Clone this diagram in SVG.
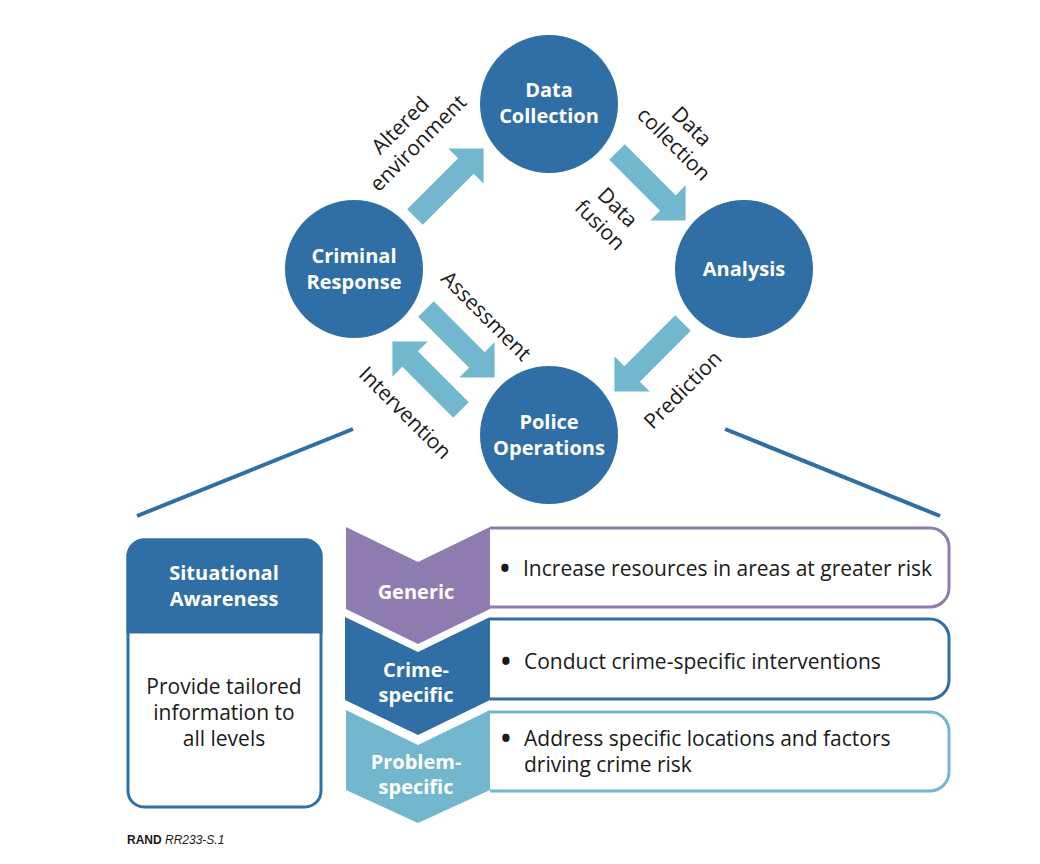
<svg xmlns="http://www.w3.org/2000/svg" width="1040" height="864" viewBox="0 0 1040 864">
<style>
.node{fill:#306ea6}
.arr{fill:#72b7cd}
.wb{font-family:"Open Sans","Noto Sans",sans-serif;font-weight:bold;font-size:20px;fill:#fff;text-anchor:middle}
.lbl{font-family:"Open Sans","Noto Sans",sans-serif;font-size:21px;fill:#1a1a1a;text-anchor:middle}
.body{font-family:"Open Sans","Noto Sans",sans-serif;font-size:21px;fill:#1a1a1a}
.bul{font-family:"Open Sans","Noto Sans",sans-serif;font-size:26px;font-weight:bold;fill:#1a1a1a}
.conn{stroke:#306ea6;stroke-width:4;fill:none}
</style>
<defs>
<path id="fat" d="M0,-11 L72,-11 L72,-25 L97,0 L72,25 L72,11 L0,11 Z"/>
</defs>
<rect width="1040" height="864" fill="#fff"/>
<g id="connectors">
<use href="#fat" class="arr" transform="translate(415,217) rotate(-45)"/>
<use href="#fat" class="arr" transform="translate(617,152) rotate(45)"/>
<use href="#fat" class="arr" transform="translate(683,323) rotate(135)"/>
<use href="#fat" class="arr" transform="translate(426,309) rotate(45)"/>
<use href="#fat" class="arr" transform="translate(461,410) rotate(-135)"/>
<line class="conn" x1="353" y1="429" x2="137" y2="516"/>
<line class="conn" x1="725" y1="429" x2="940" y2="516"/>
<g transform="translate(409,134) rotate(-45)"><text class="lbl" y="-5">Altered</text><text class="lbl" y="20">environment</text></g>
<g transform="translate(683,135) rotate(45)"><text class="lbl" y="-5">Data</text><text class="lbl" y="20">collection</text></g>
<g transform="translate(609,216) rotate(45)"><text class="lbl" y="-5">Data</text><text class="lbl" y="20">fusion</text></g>
<text class="lbl" transform="translate(486,316) rotate(45)" y="7">Assessment</text>
<text class="lbl" transform="translate(405,413) rotate(45)" y="7">Intervention</text>
<text class="lbl" transform="translate(683,390) rotate(-45)" y="7">Prediction</text>
</g>
<g id="data-collection"><circle class="node" cx="549" cy="104" r="69"/><text class="wb" x="549" y="97">Data</text><text class="wb" x="549" y="123">Collection</text></g>
<g id="criminal-response"><circle class="node" cx="354" cy="269" r="69"/><text class="wb" x="354" y="263">Criminal</text><text class="wb" x="354" y="289">Response</text></g>
<g id="analysis"><circle class="node" cx="744" cy="269" r="69"/><text class="wb" x="744" y="276">Analysis</text></g>
<g id="police-operations"><circle class="node" cx="549" cy="435" r="69"/><text class="wb" x="549" y="429">Police</text><text class="wb" x="549" y="455">Operations</text></g>
<g id="situational-awareness">
<rect x="128" y="540" width="193" height="267" rx="16" fill="#fff" stroke="#306ea6" stroke-width="3"/>
<path d="M128,632 L128,556 A16,16 0 0 1 144,540 L305,540 A16,16 0 0 1 321,556 L321,632 Z" fill="#306ea6" stroke="#306ea6" stroke-width="3"/>
<text class="wb" x="224" y="580">Situational</text><text class="wb" x="224" y="606">Awareness</text>
<text class="body" text-anchor="middle" x="224" y="694">Provide tailored</text>
<text class="body" text-anchor="middle" x="224" y="720">information to</text>
<text class="body" text-anchor="middle" x="224" y="746">all levels</text>
</g>
<g id="generic">
<path d="M490,528 L930,528 A19,19 0 0 1 949,547 L949,588 A19,19 0 0 1 930,607 L490,607" fill="#fff" stroke="#8e7bb0" stroke-width="3"/>
<path d="M346,527 L418,562 L490,527 L490,609 L418,644 L346,609 Z" fill="#8e7bb0"/>
<text class="wb" x="416" y="599">Generic</text>
<text class="bul" x="500" y="578">•</text><text class="body" x="523" y="576">Increase resources in areas at greater risk</text>
</g>
<g id="crime-specific">
<path d="M490,619 L930,619 A19,19 0 0 1 949,638 L949,680 A19,19 0 0 1 930,699 L490,699" fill="#fff" stroke="#306ea6" stroke-width="3"/>
<path d="M345,617 L418,652 L490,617 L490,700 L418,735 L345,700 Z" fill="#306ea6"/>
<text class="wb" x="416" y="677">Crime-</text><text class="wb" x="416" y="702">specific</text>
<text class="bul" x="501" y="671">•</text><text class="body" x="524" y="669">Conduct crime-specific interventions</text>
</g>
<g id="problem-specific">
<path d="M490,712 L930,712 A19,19 0 0 1 949,731 L949,772 A19,19 0 0 1 930,791 L490,791" fill="#fff" stroke="#72b7cd" stroke-width="3"/>
<path d="M346,710 L418,745 L490,710 L490,790 L418,823 L346,790 Z" fill="#72b7cd"/>
<text class="wb" x="416" y="769">Problem-</text><text class="wb" x="416" y="794">specific</text>
<text class="bul" x="501" y="748">•</text><text class="body" x="524" y="746">Address specific locations and factors</text>
<text class="body" x="524" y="772">driving crime risk</text>
</g>
<text x="127" y="844" font-family="'Liberation Sans',Arial,sans-serif" font-size="12" fill="#1a1a1a"><tspan font-weight="bold">RAND</tspan> <tspan font-style="italic">RR233-S.1</tspan></text>
</svg>
